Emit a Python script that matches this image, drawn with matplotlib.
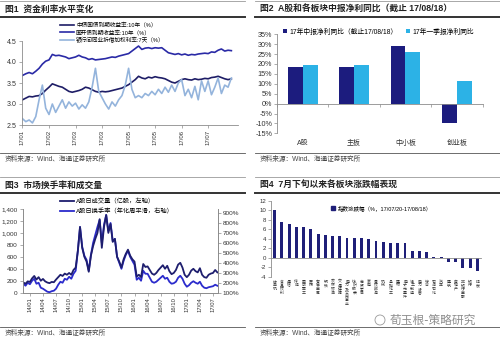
import numpy as np
import matplotlib
matplotlib.use("Agg")
import matplotlib.pyplot as plt
from matplotlib.transforms import blended_transform_factory
from matplotlib.patches import Patch, Circle
from matplotlib.lines import Line2D
from matplotlib.ticker import FuncFormatter

plt.rcParams['font.family'] = ['Liberation Sans', 'Noto Sans CJK SC', 'DejaVu Sans']
plt.rcParams['axes.unicode_minus'] = False

# ---------------- data ----------------
# Fig 1: bond yields and interbank rate (2017)
rate_ticklabels = ["17/01", "17/02", "17/03", "17/03", "17/05", "17/05", "17/06", "17/07"]
cgb_10y = [3.10, 3.14, 3.18, 3.17, 3.19, 3.20, 3.25, 3.33, 3.40, 3.48,
           3.45, 3.42, 3.40, 3.35, 3.30, 3.28, 3.30, 3.32, 3.35, 3.40,
           3.38, 3.34, 3.30, 3.28, 3.30, 3.29, 3.30, 3.32, 3.34, 3.36,
           3.38, 3.42, 3.46, 3.52, 3.58, 3.66, 3.62, 3.60, 3.64, 3.62,
           3.65, 3.63, 3.62, 3.60, 3.56, 3.52, 3.50, 3.54, 3.58, 3.60,
           3.58, 3.57, 3.60, 3.58, 3.59, 3.61, 3.60, 3.63, 3.64, 3.66,
           3.63, 3.60, 3.58, 3.60]
cdb_10y = [3.68, 3.72, 3.75, 3.72, 3.78, 3.85, 3.95, 4.02, 4.05, 4.18,
           4.15, 4.16, 4.14, 4.12, 4.08, 4.10, 4.12, 4.16, 4.12, 4.10,
           4.06, 4.08, 4.05, 4.06, 4.07, 4.08, 4.10, 4.12, 4.11, 4.14,
           4.16, 4.18, 4.20, 4.26, 4.32, 4.38, 4.30, 4.33, 4.34, 4.32,
           4.34, 4.33, 4.34, 4.28, 4.22, 4.20, 4.18, 4.20, 4.17, 4.19,
           4.16, 4.18, 4.17, 4.19, 4.20, 4.21, 4.20, 4.24, 4.23, 4.28,
           4.31, 4.26, 4.28, 4.27]
repo_7d = [2.65, 2.58, 2.62, 2.55, 2.70, 3.10, 3.45, 2.90, 2.75, 3.00,
           2.80, 2.95, 3.10, 2.90, 3.05, 2.95, 3.02, 2.88, 2.98, 2.90,
           3.05, 3.40, 3.85, 3.30, 3.15, 3.00, 2.88, 3.05, 2.95, 3.10,
           3.20, 3.45, 3.85, 3.35, 3.15, 3.20, 3.15, 3.25, 3.20, 3.30,
           3.22, 3.35, 3.25, 3.40, 3.28, 3.45, 3.30, 3.50, 3.58, 3.20,
           3.35, 3.15, 3.42, 3.10, 3.55, 3.30, 3.55, 3.22, 3.40, 3.62,
           3.25, 3.45, 3.40, 3.62]
rate_labels = ["中债国债到期收益率:10年（%）", "国开债到期收益率:10年（%）",
               "银行间同业拆借加权利率:7天（%）"]

# Fig 2: H1 / Q1 net profit growth by board
boards = ["A股", "主板", "中小板", "创业板"]
h1_growth = [18.4, 18.6, 29.1, -9.8]
q1_growth = [19.6, 19.3, 26.3, 11.2]
growth_labels = ["17年中报净利同比（截止17/08/18）", "17年一季报净利同比"]

# Fig 3: volume (left) and turnover (right)
vol_ticklabels = ["14/01", "14/04", "14/07", "14/10", "15/01", "15/04", "15/07", "15/10",
                  "16/01", "16/04", "16/07", "16/10", "17/01", "17/04", "17/07"]
volume = [170, 150, 190, 180, 240, 280, 220, 260, 200, 230,
          190, 170, 160, 180, 175, 220, 260, 300, 280, 320,
          300, 330, 300, 380, 420, 700, 1100, 750, 600, 520,
          350, 620, 780, 900, 1000, 1230, 750, 1100, 1300, 1000,
          1150, 850, 900, 600, 520, 420, 560, 650, 720, 620,
          560, 520, 270, 300, 260, 480, 430, 440, 380, 320,
          300, 330, 380, 420, 460, 400, 450, 360, 310, 330,
          380, 470, 500, 420, 300, 260, 300, 370, 400, 360,
          340, 410, 300, 260, 250, 300, 320, 330, 380, 340]
turnover = [190, 170, 200, 185, 220, 240, 190, 200, 150, 140,
            125, 110, 105, 115, 120, 140, 180, 210, 200, 240,
            230, 260, 240, 290, 320, 520, 760, 560, 470, 430,
            320, 480, 600, 680, 760, 830, 600, 780, 880, 720,
            800, 620, 640, 460, 400, 340, 420, 480, 520, 460,
            420, 380, 230, 250, 220, 320, 290, 290, 250, 210,
            200, 210, 230, 250, 270, 240, 250, 210, 190, 195,
            210, 250, 270, 240, 190, 160, 175, 200, 215, 200,
            190, 210, 170, 150, 145, 155, 160, 165, 180, 170]
vol_labels = ["A股日成交量（亿股，左轴）", "A股日换手率（年化周平滑，右轴）"]

# Fig 4: sector performance since late July
sectors = ["计算机", "食品饮料", "通信", "传媒", "国防军工", "医药", "有色金属", "钢铁",
           "农林牧渔", "交通运输", "电力及公用事业", "纺织服装", "商贸零售", "家电",
           "餐饮旅游", "机械", "基础化工", "建材", "电子元器件", "轻工制造", "电力设备",
           "综合", "石油石化", "汽车", "建筑", "房地产", "非银行金融", "银行", "煤炭"]
sector_chg = [10.1, 7.6, 7.1, 6.5, 6.4, 6.0, 4.9, 4.7, 4.5, 4.5,
              4.1, 4.1, 4.1, 3.9, 3.5, 3.3, 3.2, 3.1, 3.0, 1.5,
              1.4, 1.3, 0.1, 0.1, -0.9, -1.0, -2.1, -2.1, -2.8]
sector_label = "指数涨跌幅（%，17/07/20-17/08/18）"

# ---------------- layout helpers ----------------
W, H = 500, 341
fig = plt.figure(figsize=(W / 100, H / 100), dpi=100)


def rect(l, t, r, b):
    return [l / W, 1 - b / H, (r - l) / W, (b - t) / H]


def fx(x):
    return x / W


def fy(y):
    return 1 - y / H


SOURCE = "资料来源：Wind、海通证券研究所"


def frame(x0, x1, ytop, title, yfoot):
    fig.add_artist(Line2D([fx(x0), fx(x1)], [fy(ytop)] * 2, color="#9a9a9a", lw=0.6))
    fig.text(fx(x0 + 5), fy(ytop + 8.5), title, fontsize=6.3, fontweight="bold",
             va="center", ha="left", color="#222222")
    fig.add_artist(Line2D([fx(x0), fx(x1)], [fy(ytop + 15.5)] * 2, color="#333333", lw=1.4))
    fig.add_artist(Line2D([fx(x0), fx(x1)], [fy(yfoot)] * 2, color="#555555", lw=0.6))
    fig.text(fx(x0 + 5), fy(yfoot + 6.5), SOURCE, fontsize=4.8, va="center",
             ha="left", color="#444444")


def style_axes(ax, size):
    for s in ax.spines.values():
        s.set_color("#8c8c8c")
        s.set_linewidth(0.6)
    ax.tick_params(labelsize=size, colors="#8c8c8c", labelcolor="#333333",
                   length=2, width=0.5, pad=1.5)
    ax.set_facecolor("none")


frame(0, 245, 1, "图1  资金利率水平变化", 152.5)
frame(255, 500, 1, "图2  A股和各板块中报净利同比（截止 17/08/18）", 152.5)
frame(0, 245, 177, "图3  市场换手率和成交量", 327)
frame(255, 500, 177, "图4  7月下旬以来各板块涨跌幅表现", 327)

# ---------------- Fig 1 ----------------
ax1 = fig.add_axes(rect(21.5, 41, 238, 125))
x1 = np.arange(len(cgb_10y))
l1, = ax1.plot(x1, cgb_10y, color="#1e1d66", lw=1.2)
l2, = ax1.plot(x1, cdb_10y, color="#2a2aa6", lw=1.2)
l3, = ax1.plot(x1, repo_7d, color="#94b4dc", lw=1.2)
ax1.set_ylim(2.5, 4.5)
ax1.set_xlim(-0.3, 65)
ax1.set_yticks(np.arange(2.5, 4.51, 0.5))
ax1.yaxis.set_major_formatter(FuncFormatter(lambda v, p: f"{v:.1f}"))
ax1.set_xticks(np.arange(len(rate_ticklabels)) * 8)
ax1.set_xticklabels(rate_ticklabels, rotation=90)
ax1.spines["top"].set_visible(False)
ax1.spines["right"].set_visible(False)
style_axes(ax1, 5)
ax1.tick_params(axis="x", labelsize=4.3)
ax1.legend([l1, l2, l3], rate_labels, loc="upper left", bbox_to_anchor=(fx(60), fy(22)),
           bbox_transform=fig.transFigure, frameon=False, fontsize=4.1,
           handlelength=2.4, handletextpad=0.4, labelspacing=0.3, borderpad=0,
           borderaxespad=0)

# ---------------- Fig 2 ----------------
ax2 = fig.add_axes(rect(277, 34.3, 482.5, 133.3))
xb = np.arange(len(boards))
bw = 0.29
b1 = ax2.bar(xb - bw / 2, h1_growth, bw, color="#1c1c7e")
b2 = ax2.bar(xb + bw / 2, q1_growth, bw, color="#2cb2e6")
ax2.set_xlim(-0.5, len(boards) - 0.5)
ax2.set_ylim(-15, 35)
ax2.set_yticks(np.arange(-15, 36, 5))
ax2.yaxis.set_major_formatter(FuncFormatter(lambda v, p: f"{v:.0f}%"))
ax2.spines["top"].set_visible(False)
ax2.spines["right"].set_visible(False)
ax2.spines["bottom"].set_position(("data", 0))
ax2.set_xticks(np.arange(len(boards) + 1) - 0.5)
ax2.set_xticklabels([])
style_axes(ax2, 5.2)
tr2 = blended_transform_factory(ax2.transData, ax2.transAxes)
for i, name in enumerate(boards):
    ax2.text(i, -0.1, name, transform=tr2, ha="center", va="center", fontsize=5,
             color="#333333")
ax2.legend([b1, b2], growth_labels, loc="center left", bbox_to_anchor=(fx(283), fy(32)),
           bbox_transform=fig.transFigure, frameon=False, fontsize=4.9, ncol=2,
           handlelength=0.65, handleheight=0.65, handletextpad=0.3, columnspacing=1.2,
           borderpad=0, borderaxespad=0)

# ---------------- Fig 3 ----------------
ax3 = fig.add_axes(rect(22.7, 209, 218, 292.7))
x3 = np.arange(len(volume))
v1, = ax3.plot(x3, volume, color="#1e1e6e", lw=1.3)
ax3.set_ylim(0, 1400)
ax3.set_xlim(-0.3, len(volume) - 0.7)
ax3.set_yticks(np.arange(0, 1401, 200))
ax3.yaxis.set_major_formatter(FuncFormatter(lambda v, p: f"{v:,.0f}"))
ax3.set_xticks(3 + np.arange(len(vol_ticklabels)) * 6)
ax3.set_xticklabels(vol_ticklabels, rotation=90)
ax3.spines["top"].set_visible(False)
style_axes(ax3, 4.6)
ax3.tick_params(axis="x", labelsize=4.2)
ax3r = ax3.twinx()
v2, = ax3r.plot(x3, turnover, color="#2b2bcc", lw=1.3)
ax3r.set_ylim(100, 940)
ax3r.set_yticks(np.arange(100, 901, 100))
ax3r.yaxis.set_major_formatter(FuncFormatter(lambda v, p: f"{v:.0f}%"))
ax3r.spines["top"].set_visible(False)
style_axes(ax3r, 4.6)
ax3.set_zorder(ax3r.get_zorder() + 1)
ax3.legend([v1, v2], vol_labels, loc="upper left", bbox_to_anchor=(fx(60), fy(198)),
           bbox_transform=fig.transFigure, frameon=False, fontsize=4.5,
           handlelength=2.2, handletextpad=0.4, labelspacing=0.55, borderpad=0,
           borderaxespad=0)

# ---------------- Fig 4 ----------------
ax4 = fig.add_axes(rect(271, 200.7, 481, 276.7))
x4 = np.arange(len(sectors))
bars4 = ax4.bar(x4, sector_chg, 0.4, color="#1f1f78")
ax4.set_xlim(-0.5, len(sectors) - 0.5)
ax4.set_ylim(-4, 12)
ax4.set_yticks(np.arange(-4, 13, 2))
ax4.spines["top"].set_visible(False)
ax4.spines["right"].set_visible(False)
ax4.spines["bottom"].set_position(("data", 0))
ax4.set_xticks([])
style_axes(ax4, 4.4)
tr4 = blended_transform_factory(ax4.transData, ax4.transAxes)
for i, name in enumerate(sectors):
    ax4.text(i, -0.04, "\n".join(name), transform=tr4, ha="center", va="top",
             fontsize=2.8, linespacing=0.9, color="#333333")
ax4.legend([Patch(color="#1f1f78")], [sector_label], loc="center left",
           bbox_to_anchor=(fx(331), fy(208)),
           bbox_transform=fig.transFigure, frameon=False, fontsize=4.0,
           handlelength=0.7, handleheight=0.7, handletextpad=0.5,
           borderpad=0, borderaxespad=0)

# account watermark
fig.add_artist(Circle((3.80, (H - 320) / 100), 0.05, transform=fig.dpi_scale_trans,
                      fill=False, ec="#9a9a9a", lw=0.6))
fig.text(fx(390), fy(320), "荀玉根-策略研究", fontsize=8.5, color="#8f8f8f",
         va="center", ha="left", family=["Noto Sans CJK SC"])

fig.savefig("out.png", dpi=100)
